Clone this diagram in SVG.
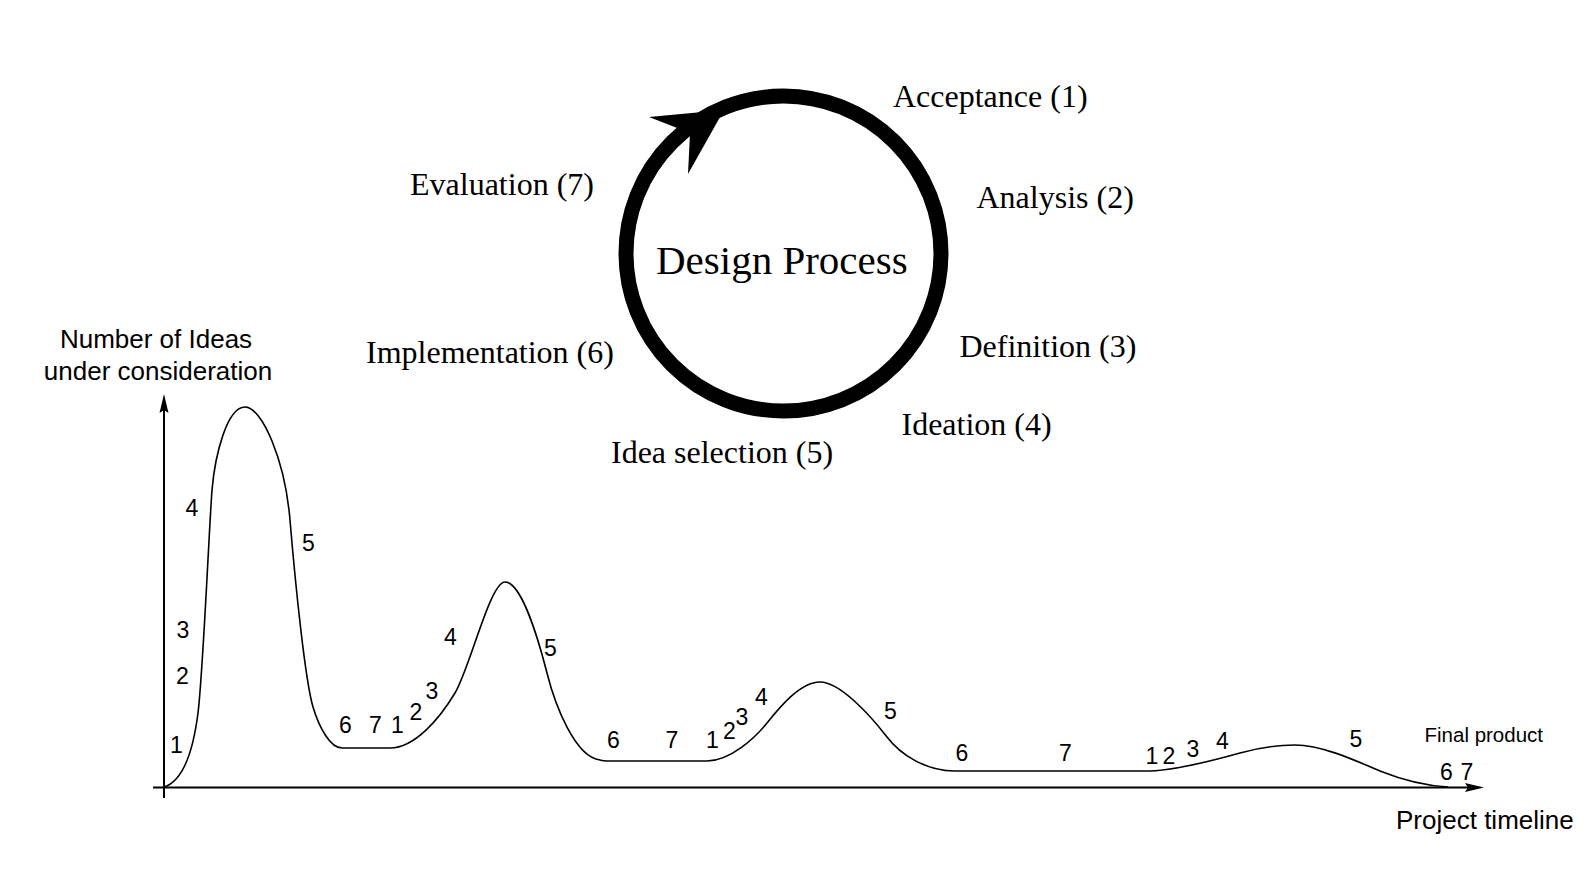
<svg xmlns="http://www.w3.org/2000/svg" width="1592" height="872" viewBox="0 0 1592 872">
<style>
.serif{font-family:"Liberation Serif","Times New Roman",serif;font-size:32px;fill:#000}
.title{font-family:"Liberation Serif","Times New Roman",serif;font-size:41px;fill:#000}
.sans{font-family:"Liberation Sans",Arial,sans-serif;font-size:26px;fill:#000}
.num{font-family:"Liberation Sans",Arial,sans-serif;font-size:23px;fill:#000}
.small{font-family:"Liberation Sans",Arial,sans-serif;font-size:20.5px;fill:#000}
.axis{stroke:#000;stroke-width:2;fill:none}
.curve{stroke:#000;stroke-width:1.6;fill:none}
</style>
<rect width="1592" height="872" fill="#fff"/>
<g id="cycle">
<circle cx="783.5" cy="253.5" r="157.5" fill="none" stroke="#000" stroke-width="15"/>
<polygon points="724,110 649,117 690,133 688,174" fill="#000"/>
<text class="title" x="656" y="274">Design Process</text>
</g>
<g id="stage-labels">
<text id="acceptance" class="serif" x="893" y="107">Acceptance (1)</text>
<text id="analysis" class="serif" x="976.5" y="208">Analysis (2)</text>
<text id="definition" class="serif" x="959.5" y="357">Definition (3)</text>
<text id="ideation" class="serif" x="901.5" y="435">Ideation (4)</text>
<text id="idea-selection" class="serif" x="611" y="463">Idea selection (5)</text>
<text id="implementation" class="serif" x="366" y="362.5">Implementation (6)</text>
<text id="evaluation" class="serif" x="410" y="195">Evaluation (7)</text>
</g>
<g id="axes">
<line class="axis" x1="164" y1="798" x2="164" y2="408"/>
<polygon points="164,394 159.5,413 164,410 168.5,413" fill="#000"/>
<line class="axis" x1="153" y1="787.5" x2="1470" y2="787.5"/>
<polygon points="1484,787.5 1465,783 1468,787.5 1465,792" fill="#000"/>
<text class="sans" x="156" y="348" text-anchor="middle">Number of Ideas</text>
<text class="sans" x="158" y="380" text-anchor="middle">under consideration</text>
<text class="sans" x="1396" y="828.5">Project timeline</text>
<text class="small" x="1424.5" y="741.5">Final product</text>
</g>
<g id="connectors">
<path class="curve" d="M164,787 C180,782 192,760 198,713 C203,673 209,530 212,490 C215,455 227,407 245,407 C262,407 285,460 290,520 C295,580 305,680 313,707 C319,727 330,748 342,748 L390,748 C415,748 440,718 455,693 C470,668 490,582 505,582 C520,582 536,630 547,673 C555,705 575,757 600,760 C603,761 606,761 610,761 L707,761 C730,761 755,738 767,723 C779,708 800,682 820,682 C840,682 870,715 887,737 C900,754 925,771 955,771 L1150,771 C1175,770 1215,760 1240,753 C1265,746 1280,745 1295,745 C1320,745 1350,758 1380,771 C1405,781 1430,786 1448,787"/>
</g>
<g id="stage-numbers">
<text class="num" x="170" y="753">1</text>
<text class="num" x="176" y="684">2</text>
<text class="num" x="176.5" y="638">3</text>
<text class="num" x="185.5" y="516">4</text>
<text class="num" x="302" y="551">5</text>
<text class="num" x="339" y="733">6</text>
<text class="num" x="369" y="733">7</text>
<text class="num" x="391" y="733">1</text>
<text class="num" x="409.5" y="720">2</text>
<text class="num" x="425.5" y="699">3</text>
<text class="num" x="444" y="645">4</text>
<text class="num" x="544" y="656">5</text>
<text class="num" x="607" y="748">6</text>
<text class="num" x="665.5" y="748">7</text>
<text class="num" x="706" y="748">1</text>
<text class="num" x="723" y="739">2</text>
<text class="num" x="735.5" y="725">3</text>
<text class="num" x="755" y="705">4</text>
<text class="num" x="884" y="719">5</text>
<text class="num" x="955.5" y="761">6</text>
<text class="num" x="1059" y="761">7</text>
<text class="num" x="1145.5" y="764">1</text>
<text class="num" x="1162.5" y="764">2</text>
<text class="num" x="1186.5" y="757">3</text>
<text class="num" x="1216" y="749">4</text>
<text class="num" x="1349.5" y="747">5</text>
<text class="num" x="1440" y="780">6</text>
<text class="num" x="1460.5" y="780">7</text>
</g>
</svg>
